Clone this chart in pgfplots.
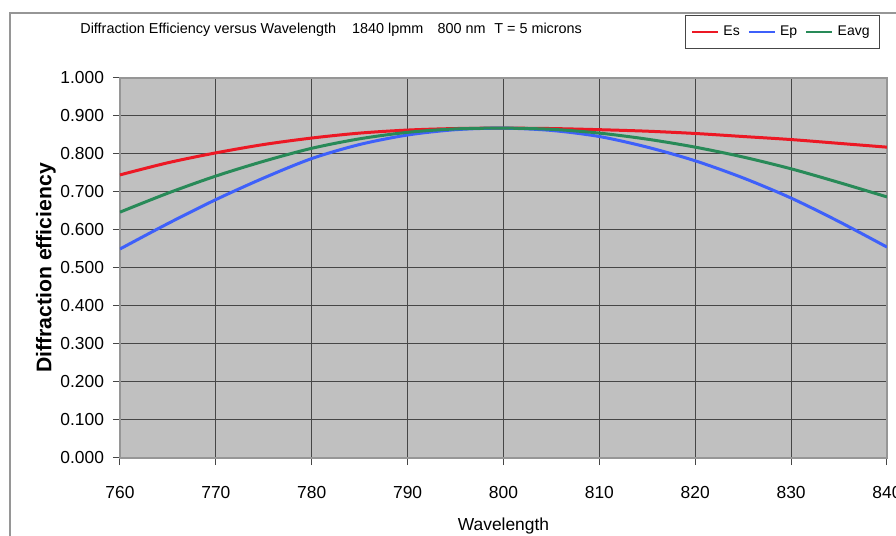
\documentclass[border=0pt]{standalone}
\usepackage{fontspec}
\setmainfont{Liberation Sans}
\usepackage{pgfplots}
\pgfplotsset{compat=1.18}
\usepackage{pgfplotstable}

\definecolor{plotbg}{RGB}{192,192,192}
\definecolor{gridc}{RGB}{70,70,70}
\definecolor{esred}{RGB}{236,24,36}
\definecolor{epblue}{RGB}{62,96,250}
\definecolor{avggreen}{RGB}{40,138,88}
\definecolor{framec}{RGB}{150,150,150}

% wavelength (nm), Es, Ep, Eavg
\pgfplotstableread{
wl   Es     Ep     Eavg
760  0.745  0.550  0.647
765  0.777  0.617  0.697
770  0.803  0.680  0.742
775  0.825  0.737  0.781
780  0.842  0.788  0.815
785  0.855  0.825  0.840
790  0.863  0.850  0.857
795  0.867  0.864  0.866
800  0.868  0.868  0.868
805  0.867  0.862  0.865
810  0.864  0.846  0.855
815  0.860  0.818  0.839
820  0.854  0.782  0.818
825  0.846  0.737  0.792
830  0.838  0.684  0.761
835  0.828  0.622  0.725
840  0.818  0.555  0.687
}\efficiency

\begin{document}
\begin{tikzpicture}
\begin{scope}[x=0.5pt,y=0.5pt]
% chart area frame (left and top edges)
\draw[framec, line width=0.6pt] (10,0) -- (10,523) -- (896,523);
% chart title
\node[anchor=west, inner sep=0pt, font=\fontsize{7.2}{8}\selectfont] at (80,506)
  {Diffraction Efficiency versus Wavelength\hspace{1.1em}1840 lpmm\hspace{1em}800 nm\hspace{0.6em}T = 5 microns};
\end{scope}
\begin{axis}[
  at={(60pt,39pt)}, anchor=south west,
  scale only axis, width=383.5pt, height=190pt,
  xmin=760, xmax=840, ymin=0, ymax=1,
  xtick={760,770,...,840},
  ytick={0,0.1,...,1.0},
  xtick pos=left, ytick pos=left,
  axis background/.style={fill=plotbg},
  grid=major,
  major grid style={gridc, line width=0.5pt},
  axis line style={framec, line width=0.6pt},
  tick align=outside,
  major tick length=3.5pt,
  tick style={gridc, line width=0.5pt},
  /pgf/number format/assume math mode=true,
  yticklabel={\pgfmathprintnumber[fixed,fixed zerofill,precision=3]{\tick}},
  xticklabel={\pgfmathprintnumber[1000 sep={}]{\tick}},
  ticklabel style={font=\fontsize{8.7}{10}\selectfont},
  xticklabel style={yshift=-7pt},
  yticklabel style={xshift=-1pt},
  xlabel={Wavelength},
  ylabel={\bfseries Diffraction efficiency},
  xlabel style={font=\fontsize{8.7}{10}\selectfont, yshift=-3pt},
  ylabel style={font=\fontsize{10.6}{12}\selectfont, yshift=-4.5pt},
  legend columns=3,
  legend style={at={(0.991,1.166)}, anchor=north east,
    draw=gridc, line width=0.5pt, fill=white,
    font=\fontsize{7}{9}\selectfont,
    inner sep=3pt,
    /tikz/every even column/.append style={column sep=2pt}},
  legend image code/.code={\draw[#1, line width=1.2pt] (0pt,0pt) -- (13pt,0pt);},
  every axis plot/.append style={line width=1.5pt, no markers, smooth},
]
\addplot[esred] table[x=wl, y=Es] {\efficiency};
\addlegendentry{Es}
\addplot[epblue] table[x=wl, y=Ep] {\efficiency};
\addlegendentry{Ep}
\addplot[avggreen] table[x=wl, y=Eavg] {\efficiency};
\addlegendentry{Eavg}
\end{axis}
\pgfresetboundingbox
\useasboundingbox (0,0) rectangle (448pt,268pt);
\end{tikzpicture}
\end{document}
